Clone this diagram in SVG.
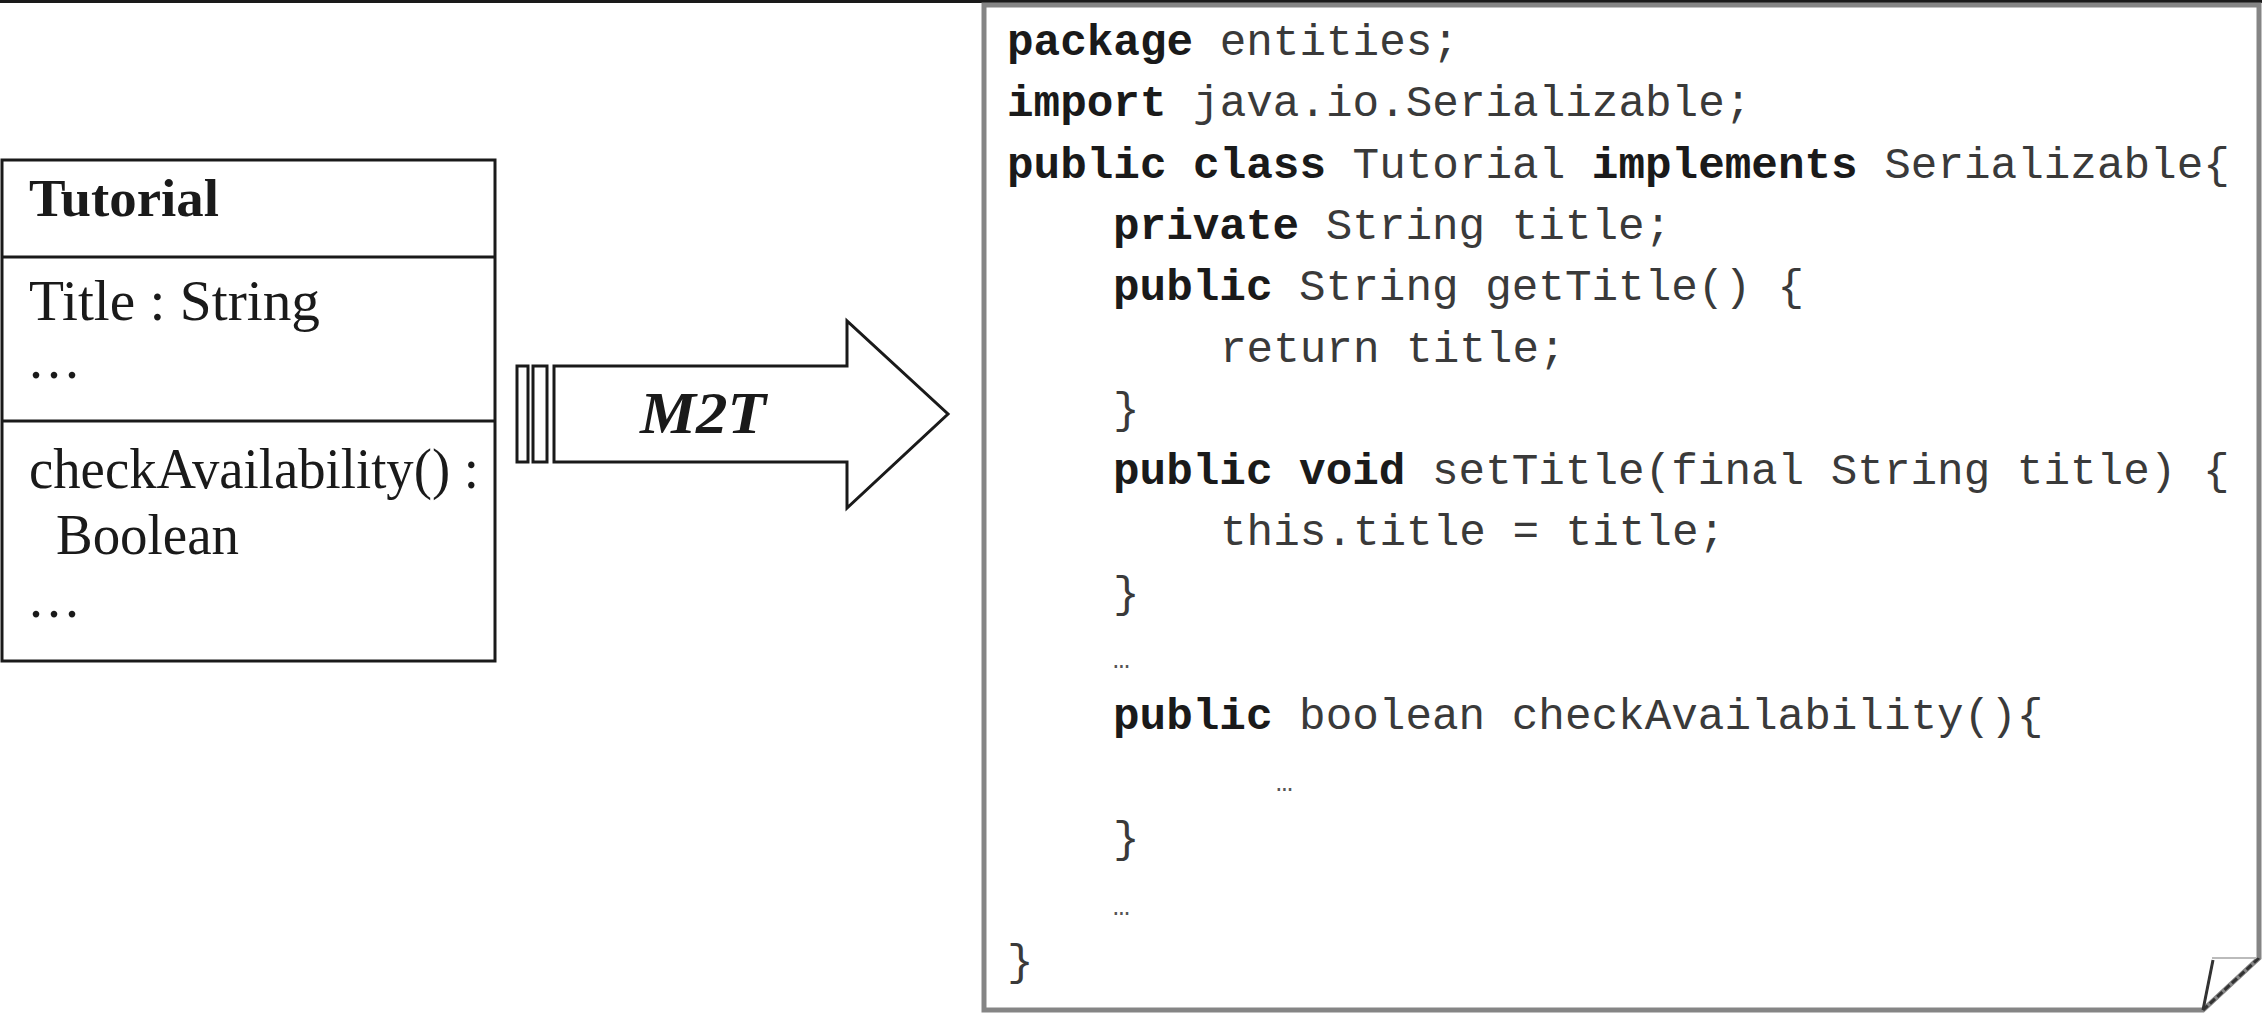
<svg xmlns="http://www.w3.org/2000/svg" width="2262" height="1014" viewBox="0 0 2262 1014">
  <style>
    .uml { fill: #ffffff; stroke: #1a1a1a; stroke-width: 3; }
    .sep { stroke: #1a1a1a; stroke-width: 3; }
    .serif { font-family: "Liberation Serif", "Times New Roman", serif; fill: #1a1a1a; }
    .code { font-family: "Liberation Mono", "Courier New", monospace; font-size: 44.3px; fill: #3a3a3a; }
    .kw { font-weight: bold; fill: #1a1a1a; }
    .dots { font-family: "Liberation Mono", monospace; font-size: 28px; fill: #555555; }
    .arrow { fill: #ffffff; stroke: #1a1a1a; stroke-width: 3; stroke-linejoin: miter; }
  </style>

  <rect x="0" y="0" width="2262" height="1014" fill="#ffffff"/>
  <rect x="0" y="0" width="2262" height="3" fill="#1a1a1a"/>

  <g id="tutorial-class">
    <rect class="uml" x="2" y="160" width="493" height="501"/>
    <line class="sep" x1="2" y1="257" x2="495" y2="257"/>
    <line class="sep" x1="2" y1="421" x2="495" y2="421"/>
    <text class="serif" x="29" y="216" font-size="52" font-weight="bold" textLength="190" lengthAdjust="spacingAndGlyphs">Tutorial</text>
    <text class="serif" x="29" y="320" font-size="58" textLength="291" lengthAdjust="spacingAndGlyphs">Title : String</text>
    <text class="serif" x="29" y="378" font-size="56" textLength="50" lengthAdjust="spacing">...</text>
    <text class="serif" x="29" y="488" font-size="56" textLength="450" lengthAdjust="spacingAndGlyphs">checkAvailability() :</text>
    <text class="serif" x="56" y="554" font-size="56" textLength="183" lengthAdjust="spacingAndGlyphs">Boolean</text>
    <text class="serif" x="29" y="617" font-size="56" textLength="50" lengthAdjust="spacing">...</text>
  </g>

  <g id="connectors">
    <g id="m2t-arrow">
      <rect class="arrow" x="517" y="366" width="11" height="96"/>
      <rect class="arrow" x="533" y="366" width="14" height="96"/>
      <path class="arrow" d="M554,366 H847 V321 L948,414 L847,508 V462 H554 Z"/>
      <text class="serif" x="640" y="433" font-size="60" font-style="italic" font-weight="bold" textLength="126" lengthAdjust="spacingAndGlyphs">M2T</text>
    </g>
  </g>

  <g id="java-code">
    <path d="M984,5 H2259 V958 L2203,1010 H984 Z" fill="#ffffff" stroke="#858585" stroke-width="5"/>
    <path d="M2212,958 H2259" stroke="#bbbbbb" stroke-width="2" fill="none"/>
    <path d="M2213,960 L2203,1010" stroke="#333333" stroke-width="3" fill="none"/>
    <path d="M2259,958 L2203,1010" stroke="#333333" stroke-width="3" stroke-dasharray="7,3" fill="none"/>
    <text class="code" xml:space="preserve">
      <tspan x="1007" y="55"><tspan class="kw">package</tspan> entities;</tspan>
      <tspan x="1007" y="116"><tspan class="kw">import</tspan> java.io.Serializable;</tspan>
      <tspan x="1007" y="178"><tspan class="kw">public class</tspan> Tutorial <tspan class="kw">implements</tspan> Serializable{</tspan>
      <tspan x="1113" y="239"><tspan class="kw">private</tspan> String title;</tspan>
      <tspan x="1113" y="300"><tspan class="kw">public</tspan> String getTitle() {</tspan>
      <tspan x="1220" y="362">return title;</tspan>
      <tspan x="1113" y="423">}</tspan>
      <tspan x="1113" y="484"><tspan class="kw">public void</tspan> setTitle(final String title) {</tspan>
      <tspan x="1220" y="545">this.title = title;</tspan>
      <tspan x="1113" y="607">}</tspan>
      <tspan x="1113" y="729"><tspan class="kw">public</tspan> boolean checkAvailability(){</tspan>
      <tspan x="1113" y="852">}</tspan>
      <tspan x="1007" y="975">}</tspan>
    </text>
    <text class="dots" x="1113" y="668">…</text>
    <text class="dots" x="1276" y="791">…</text>
    <text class="dots" x="1113" y="915">…</text>
  </g>
</svg>
